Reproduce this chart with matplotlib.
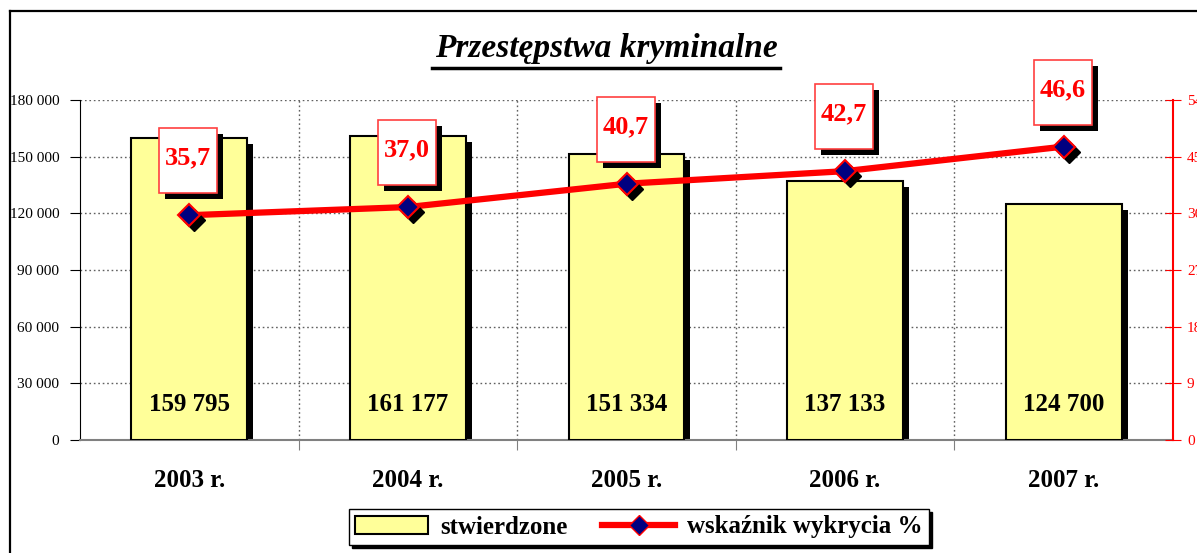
import numpy as np
import matplotlib
matplotlib.use("Agg")
import matplotlib.pyplot as plt
import matplotlib.transforms as mtransforms
from matplotlib.patches import Rectangle, Patch
from matplotlib.lines import Line2D

years = ["2003 r.", "2004 r.", "2005 r.", "2006 r.", "2007 r."]
stwierdzone = [159795, 161177, 151334, 137133, 124700]
wskaznik = [35.7, 37.0, 40.7, 42.7, 46.6]
left_ticks = [0, 30000, 60000, 90000, 120000, 150000, 180000]
right_ticks = [0, 9, 18, 27, 36, 45, 54]

plt.rcParams['font.family'] = ['Liberation Serif', 'DejaVu Serif']

W, H = 1197, 553
fig = plt.figure(figsize=(W / 100, H / 100), dpi=100)
fig.patch.set_facecolor('white')

# outer frame (only left and top edges visible)
fig.add_artist(Line2D([10 / W, 10 / W], [0, 1 - 11 / H], transform=fig.transFigure,
                      color='black', lw=1.6))
fig.add_artist(Line2D([10 / W, 1], [1 - 11 / H, 1 - 11 / H], transform=fig.transFigure,
                      color='black', lw=1.6))

ax = fig.add_axes([80 / W, 1 - 440 / H, (1173 - 80) / W, 340 / H])
x = np.arange(len(years))

def px(dx, dy):
    return mtransforms.ScaledTranslation(dx / 100, dy / 100, fig.dpi_scale_trans)

# bars with black shadow
ax.bar(x, stwierdzone, width=0.53, color='black', transform=ax.transData + px(6, -6), zorder=2)
ax.bar(x, stwierdzone, width=0.53, color='#FFFF99', edgecolor='black', linewidth=1.5, zorder=3)
for xi, v in zip(x, stwierdzone):
    ax.text(xi, 19000, f"{v:,}".replace(",", " "), ha='center', va='center',
            fontsize=18, fontweight='bold', zorder=4)

ax.set_xlim(-0.5, len(years) - 0.5)
ax.set_ylim(0, 180000)
ax.set_yticks(left_ticks)
ax.set_yticklabels([f"{t:,}".replace(",", " ") for t in left_ticks], fontsize=11)
ax.set_xticks(x[:-1] + 0.5)
ax.set_xticklabels([])
ax.set_xticks(x, minor=True)
ax.set_xticklabels(years, minor=True, fontsize=18, fontweight='bold')
ax.tick_params(axis='x', which='major', direction='out', length=7, color='#808080')
ax.tick_params(axis='x', which='minor', length=0, pad=21)
ax.tick_params(axis='y', direction='out', length=7, color='black', pad=8)
ax.grid(True, axis='y', linestyle=(0, (1.2, 2)), color='#606060', lw=1, zorder=0)
ax.grid(True, axis='x', which='major', linestyle=(0, (1.2, 2)), color='#606060', lw=1, zorder=0)
ax.set_axisbelow(True)
for s in ['top', 'right']:
    ax.spines[s].set_visible(False)
ax.spines['bottom'].set_color('#808080')
ax.spines['bottom'].set_linewidth(1.5)
ax.spines['left'].set_color('black')

ax2 = ax.twinx()
ax2.set_ylim(0, 54)
ax2.set_yticks(right_ticks)
ax2.set_yticklabels([str(t) for t in right_ticks], fontsize=11, color='red')
ax2.tick_params(axis='y', direction='inout', length=12, color='red', pad=4)
for s in ['top', 'left', 'bottom']:
    ax2.spines[s].set_visible(False)
ax2.spines['right'].set_color('red')
ax2.spines['right'].set_linewidth(1.5)

ax2.plot(x, wskaznik, color='red', lw=4.5, zorder=3, solid_capstyle='butt')
ax2.plot(x, wskaznik, linestyle='none', marker='D', ms=11, color='black',
         transform=ax2.transData + px(5, -5), zorder=4)
ax2.plot(x, wskaznik, linestyle='none', marker='D', ms=11, markerfacecolor='#000080',
         markeredgecolor='red', markeredgewidth=1.5, zorder=5)

for xi, v in zip(x, wskaznik):
    base = mtransforms.ScaledTranslation(xi, v, ax2.transData)
    tr = fig.dpi_scale_trans + base
    ax2.add_patch(Rectangle(((-30 + 6) / 100, (22 - 6) / 100), 0.58, 0.65, transform=tr,
                            facecolor='black', edgecolor='none', zorder=6, clip_on=False))
    ax2.add_patch(Rectangle((-30 / 100, 22 / 100), 0.58, 0.65, transform=tr,
                            facecolor='white', edgecolor='#FF4040', lw=1.2, zorder=7, clip_on=False))
    ax2.text(-1 / 100, 57 / 100, f"{v:.1f}".replace(".", ","), transform=tr,
             ha='center', va='center', fontsize=19, fontweight='bold', color='red',
             zorder=8, clip_on=False)

# title with underline
fig.text(606 / W, 1 - 49 / H, "Przestępstwa kryminalne", ha='center', va='center',
         fontsize=24, fontweight='bold', fontstyle='italic')
fig.add_artist(Line2D([432 / W, 780 / W], [1 - 68 / H, 1 - 68 / H], transform=fig.transFigure,
                      color='black', lw=2.5))

handles = [Patch(facecolor='#FFFF99', edgecolor='black', lw=1.5),
           Line2D([], [], color='red', lw=4.5, marker='D', ms=10,
                  markerfacecolor='#000080', markeredgecolor='red')]
leg = fig.legend(handles, ['stwierdzone', 'wskaźnik wykrycia %'], loc='center',
                 bbox_to_anchor=(639 / W, 1 - 527 / H), ncol=2, fancybox=False,
                 edgecolor='black', framealpha=1, shadow={'color': 'black', 'alpha': 1},
                 prop={'size': 18, 'weight': 'bold'}, handlelength=2.9, columnspacing=1.4,
                 borderpad=0.25, handletextpad=0.5)
leg.get_frame().set_linewidth(1.0)

fig.savefig("out.png", dpi=100)
